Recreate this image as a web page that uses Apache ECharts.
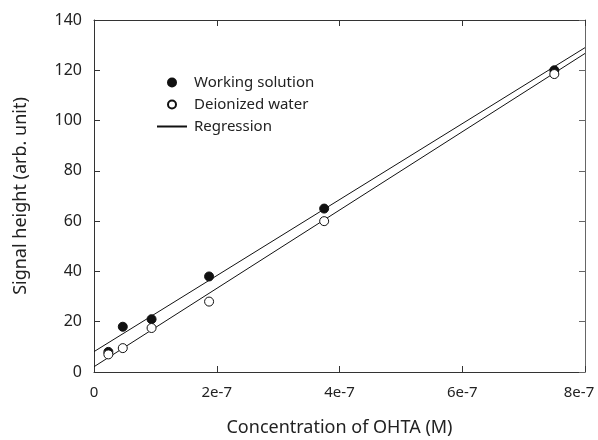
<!DOCTYPE html>
<html>
<head>
<meta charset="utf-8">
<script src="https://cdn.jsdelivr.net/npm/echarts@6/dist/echarts.min.js"></script>
<style>
  html, body { margin: 0; padding: 0; background: #fff; }
  #chart { width: 598px; height: 440px; }
</style>
</head>
<body>
<div id="chart"></div>
<script>
// OHTA concentrations (M), two-fold dilution series
const concentrations = [2.34e-8, 4.69e-8, 9.38e-8, 1.875e-7, 3.75e-7, 7.5e-7];
// Signal heights (arb. unit)
const workingSolution = [8, 18, 21, 38, 65, 120];
const deionizedWater = [7, 9.5, 17.5, 28, 60, 118.5];
// Regression line end points over the plotted range
const regressionX = [0, 8e-7];
const regressionWorking = [8.1, 129];
const regressionWater = [2.1, 126.7];
// Axis ranges and tick spacing
const xMax = 8e-7, xStep = 2e-7;
const yMax = 140, yStep = 20;

const pairs = (xs, ys) => xs.map((x, i) => [x, ys[i]]);
const font = 'Noto Sans';
const axisColor = '#333';
const textColor = '#222';

const chart = echarts.init(document.getElementById('chart'), null, { renderer: 'canvas' });

// Scientific-notation tick text; the last one is nudged left so it stays on the canvas
const fmtX = v => {
  if (Math.abs(v) < 1e-12) return '0';
  const s = Math.round(v * 1e7) + 'e-7';
  return Math.abs(v - xMax) < 1e-12 ? '{edge|' + s + '}' : s;
};

const tick = color => ({ show: true, inside: true, length: 6, lineStyle: { color: color } });

chart.setOption({
  animation: false,
  backgroundColor: '#fff',
  textStyle: { fontFamily: font },
  grid: { left: 94, right: 13, top: 20, bottom: 68, containLabel: false, outerBoundsMode: 'none' },
  legend: {
    orient: 'vertical',
    left: 156,
    top: 75,
    padding: 0,
    itemWidth: 30,
    itemHeight: 8,
    itemGap: 7,
    textStyle: { fontFamily: font, fontSize: 15, color: textColor, padding: [0, 0, 0, 2] },
    data: [
      { name: 'Working solution' },
      { name: 'Deionized water' },
      { name: 'Regression', itemStyle: { opacity: 0 } }
    ]
  },
  xAxis: [
    {
      type: 'value', min: 0, max: xMax, interval: xStep,
      name: 'Concentration of OHTA (M)', nameLocation: 'middle', nameGap: 47,
      nameTextStyle: { fontFamily: font, fontSize: 18, color: textColor },
      axisLine: { onZero: false, lineStyle: { color: axisColor, width: 1 } },
      axisTick: tick(axisColor),
      axisLabel: {
        formatter: fmtX, fontFamily: font, fontSize: 15, color: textColor, margin: 13,
        rich: { edge: { fontFamily: font, fontSize: 15, color: textColor, padding: [0, 12, 0, 0] } }
      },
      splitLine: { show: false }
    },
    {
      type: 'value', position: 'top', min: 0, max: xMax, interval: xStep,
      axisLine: { show: true, onZero: false, lineStyle: { color: axisColor, width: 1 } },
      axisTick: tick(axisColor),
      axisLabel: { show: false },
      splitLine: { show: false }
    }
  ],
  yAxis: [
    {
      type: 'value', min: 0, max: yMax, interval: yStep,
      name: 'Signal height (arb. unit)', nameLocation: 'middle', nameGap: 64,
      nameTextStyle: { fontFamily: font, fontSize: 18, color: textColor },
      axisLine: { show: true, onZero: false, lineStyle: { color: axisColor, width: 1 } },
      axisTick: tick(axisColor),
      axisLabel: { fontFamily: font, fontSize: 16, color: textColor, margin: 12 },
      splitLine: { show: false }
    },
    {
      type: 'value', position: 'right', min: 0, max: yMax, interval: yStep,
      axisLine: { show: true, onZero: false, lineStyle: { color: '#666', width: 1 } },
      axisTick: tick('#666'),
      axisLabel: { show: false },
      splitLine: { show: false }
    }
  ],
  series: [
    {
      name: 'Regression', type: 'line', data: pairs(regressionX, regressionWorking),
      symbol: 'none', lineStyle: { color: '#111', width: 1 }, itemStyle: { color: '#111' },
      z: 2, silent: true
    },
    {
      name: 'Regression', type: 'line', data: pairs(regressionX, regressionWater),
      symbol: 'none', lineStyle: { color: '#111', width: 1 }, itemStyle: { color: '#111' },
      z: 2, silent: true
    },
    {
      name: 'Working solution', type: 'scatter', data: pairs(concentrations, workingSolution),
      symbol: 'circle', symbolSize: 9,
      itemStyle: { color: '#111', borderColor: '#111', borderWidth: 1, opacity: 1 },
      z: 3
    },
    {
      name: 'Deionized water', type: 'scatter', data: pairs(concentrations, deionizedWater),
      symbol: 'circle', symbolSize: 9,
      itemStyle: { color: '#fff', borderColor: '#111', borderWidth: 1, opacity: 1 },
      z: 4
    }
  ]
});
</script>
</body>
</html>
